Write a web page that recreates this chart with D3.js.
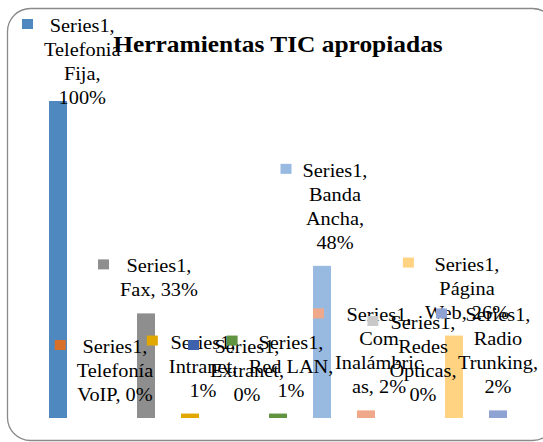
<!DOCTYPE html>
<head>
    <meta charset="utf-8">
    <script src="https://d3js.org/d3.v7.min.js"></script>
    <style>
        *{
            margin:0;
            padding:0;
        }
        body{
            background: #fff;
        }
        text{
            fill: #000;
        }
    </style>
</head>

<body>
<svg id="chart"></svg>

<script>
    // data
    const categories = ["Telefonia Fija", "Telefonía VoIP", "Fax", "Intranet", "Extranet", "Red LAN",
        "Banda Ancha", "Com Inalámbricas", "Redes Ópticas", "Página Web", "Radio Trunking"];
    const values = [1.00, 0, 0.33, 0.014, 0, 0.014, 0.48, 0.024, 0, 0.26, 0.024];
    const colors = ["#4f88be", "#d9702a", "#8e8e8e", "#e0a800", "#3d61ac", "#609440",
        "#98b9e0", "#f0a88a", "#c9c9c9", "#ffd382", "#8ea2d3"];
    // how each data label wraps, {v} is the value
    const labelWraps = [
        "Series1,|Telefonia|Fija,|{v}",
        "Series1,|Telefonía|VoIP, {v}",
        "Series1,|Fax, {v}",
        "Series1,|Intranet,|{v}",
        "Series1,|Extranet,|{v}",
        "Series1,|Red LAN,|{v}",
        "Series1,|Banda|Ancha,|{v}",
        "Series1,|Com|Inalámbric|as, {v}",
        "Series1,|Redes|Ópticas,|{v}",
        "Series1,|Página|Web, {v}",
        "Series1,|Radio|Trunking,|{v}"
    ];
    const title = "Herramientas TIC apropiadas";

    const width = 543, height = 442;
    const stretch = 1.13; // text looks wider than tall in the picture
    const serif = "'Liberation Serif', Tinos, 'Times New Roman', Times, 'DejaVu Serif', serif";

    const svg = d3.select("#chart")
        .attr("width", width)
        .attr("height", height)
        .style("font-family", serif);

    // chart frame
    svg.append("rect")
        .attr("x", 7.5)
        .attr("y", 8.5)
        .attr("width", 548)
        .attr("height", 432)
        .attr("rx", 23)
        .attr("fill", "#fff")
        .attr("stroke", "#8a8a8a")
        .attr("stroke-width", 1.3);

    const data = categories.map((c, i) => ({cat: c, v: values[i], color: colors[i], wrap: labelWraps[i]}));

    const x = d3.scaleBand()
        .domain(categories)
        .range([36, 520])
        .paddingInner(26 / 44)
        .paddingOuter(13 / 44);

    const y = d3.scaleLinear()
        .domain([0, 1])
        .range([418, 101]);

    // bars
    svg.append("g")
        .selectAll("rect")
        .data(data)
        .join("rect")
        .attr("x", d => x(d.cat))
        .attr("y", d => y(d.v))
        .attr("width", x.bandwidth())
        .attr("height", d => y(0) - y(d.v))
        .attr("fill", d => d.color);

    // title
    svg.append("text")
        .attr("transform", `translate(278,52) scale(${stretch},1)`)
        .attr("text-anchor", "middle")
        .attr("font-family", serif)
        .attr("font-weight", "bold")
        .attr("font-size", "22.5px")
        .text(title);

    // data labels with legend key
    const fmt = d3.format(".0%");
    const lineH = 24;
    const labels = svg.append("g");

    data.forEach(d => {
        const lines = d.wrap.replace("{v}", fmt(d.v)).split("|");
        const g = labels.append("g");
        const t = g.append("text")
            .attr("text-anchor", "middle")
            .attr("font-family", serif)
            .attr("font-size", "18px");
        t.selectAll("tspan")
            .data(lines)
            .join("tspan")
            .attr("x", 0)
            .attr("y", (l, i) => i * lineH)
            .text(l => l);

        // widest line, after the horizontal stretch
        let maxW = 0;
        t.selectAll("tspan").each(function () {
            maxW = Math.max(maxW, this.getComputedTextLength() * stretch);
        });

        const barX = x(d.cat) + x.bandwidth() / 2;
        let cx = barX + 13;
        if (cx - maxW / 2 - 22 < 22) cx = 22 + 22 + maxW / 2;
        if (cx + maxW / 2 > 538) cx = 538 - maxW / 2;
        const firstBase = Math.max(32, y(d.v) - 17 - (lines.length - 1) * lineH);

        t.attr("transform", `translate(${cx},${firstBase}) scale(${stretch},1)`);

        g.append("rect")
            .attr("x", cx - maxW / 2 - 22)
            .attr("y", firstBase - 13)
            .attr("width", 11)
            .attr("height", 10)
            .attr("fill", d.color);
    });
</script>
</body>
</html>
